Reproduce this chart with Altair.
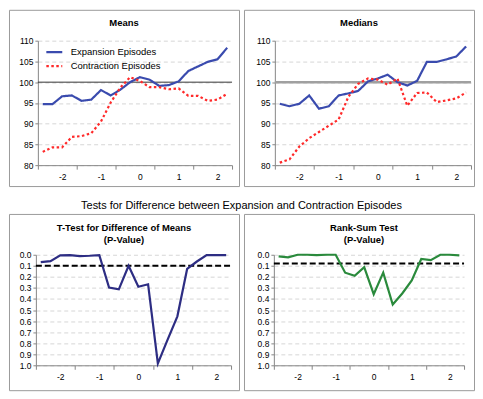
import altair as alt
import pandas as pd

# ---------------- data ----------------
quarters = [-2.5, -2.25, -2.0, -1.75, -1.5, -1.25, -1.0, -0.75, -0.5, -0.25,
            0.0, 0.25, 0.5, 0.75, 1.0, 1.25, 1.5, 1.75, 2.0, 2.25]

means_expansion = [94.7, 94.7, 96.6, 96.8, 95.5, 95.8, 98.1, 96.8, 98.2, 100.0,
                   101.2, 100.6, 99.1, 99.3, 100.2, 102.7, 103.8, 104.9, 105.5, 108.3]
means_contraction = [83.2, 84.3, 84.3, 86.8, 87.0, 87.7, 90.5, 95.1, 98.7, 101.2,
                     100.3, 98.8, 98.8, 98.3, 98.5, 96.7, 96.7, 95.5, 95.8, 97.2]

medians_expansion = [94.8, 94.2, 94.8, 96.8, 93.6, 94.2, 96.8, 97.3, 97.9, 100.2,
                     100.9, 101.8, 100.0, 99.2, 100.3, 104.9, 104.9, 105.5, 106.2, 108.6]
medians_contraction = [80.6, 81.4, 84.5, 86.5, 88.0, 89.5, 91.0, 96.5, 99.6, 100.9,
                       100.6, 99.4, 100.9, 94.3, 97.4, 97.5, 95.2, 95.6, 96.1, 97.5]

ttest_pvalue = [0.067, 0.058, 0.006, 0.003, 0.012, 0.009, 0.003, 0.296, 0.313, 0.099,
                0.290, 0.267, 0.983, 0.768, 0.557, 0.128, 0.061, 0.003, 0.003, 0.003]
ranksum_pvalue = [0.015, 0.023, 0.000, 0.000, 0.003, 0.000, 0.000, 0.162, 0.190, 0.113,
                  0.357, 0.162, 0.450, 0.350, 0.232, 0.038, 0.049, 0.000, 0.000, 0.006]

series_names = ["Expansion Episodes", "Contraction Episodes"]
baseline_level = 100
ttest_cutoff = 0.1
ranksum_cutoff = 0.08

x_domain = [-2.625, 2.375]
x_axis_values = [-2.625, -2, -1.625, -1, -0.625, 0, 0.375, 1, 1.375, 2, 2.375]
level_domain = [80, 110]
level_ticks = [80, 85, 90, 95, 100, 105, 110]
pvalue_domain = [0, 1]
pvalue_ticks = [0.0, 0.1, 0.2, 0.3, 0.4, 0.5, 0.6, 0.7, 0.8, 0.9, 1.0]

# ---------------- styling ----------------
FONT = "Liberation Sans"
W, H = 231, 177
AXIS = "#868686"
BLUE = "#3a4bae"
RED = "#ff2a2a"
NAVY = "#2d2d83"
GREEN = "#2a8a3c"


def x_enc(field, xr, y_bottom):
    return alt.X(
        field, type="quantitative",
        scale=alt.Scale(domain=x_domain, range=xr, nice=False, zero=False),
        axis=alt.Axis(
            values=x_axis_values, offset=-(H - y_bottom), title=None, grid=False,
            labelExpr="datum.value % 1 === 0 ? '' + datum.value : ''",
            labelFont=FONT, labelFontSize=8.5, labelColor="black", labelPadding=3,
            labelFlush=False, labelOverlap=False,
            domainColor=AXIS, tickColor=AXIS, tickSize=4,
            tickOpacity={"condition": {"test": "datum.value % 1 !== 0", "value": 1}, "value": 0},
        ),
    )


def y_enc(field, domain, yr, values, fmt, x_left):
    return alt.Y(
        field, type="quantitative",
        scale=alt.Scale(domain=domain, range=yr, nice=False, zero=False),
        axis=alt.Axis(
            values=values, format=fmt, offset=-x_left, title=None,
            labelFont=FONT, labelFontSize=8.5, labelColor="black", labelPadding=2,
            labelFlush=False, labelOverlap=False,
            domainColor=AXIS, tickColor=AXIS, tickSize=3,
            grid=True, gridColor="#d6d6d6", gridDash=[4, 3], gridWidth=1,
        ),
    )


def panel_title(lines, offset, dx=0):
    return alt.TitleParams(text=lines, font=FONT, fontSize=9.5, fontWeight="bold",
                           color="black", anchor="middle", offset=offset, lineHeight=12.5,
                           dx=dx)


def level_panel(title, exp, con, xr, show_legend, rule_color, rule_width):
    yr = [156, 31]
    df = pd.DataFrame({
        "quarter": quarters + quarters,
        "value": exp + con,
        "series": [series_names[0]] * len(quarters) + [series_names[1]] * len(quarters),
    })
    ref = pd.DataFrame({"x": [x_domain[0]], "x2": [x_domain[1]], "y": [baseline_level]})
    rule = alt.Chart(ref).mark_rule(color=rule_color, strokeWidth=rule_width).encode(
        x=x_enc("x", xr, yr[0]), x2="x2:Q",
        y=y_enc("y", level_domain, yr, level_ticks, "d", xr[0]),
    )
    if show_legend:
        leg = alt.Legend(orient="none", legendX=36, legendY=33, title=None,
                         symbolType="stroke", symbolSize=256, symbolStrokeWidth=2.2,
                         labelFont=FONT, labelFontSize=9.5, labelColor="black",
                         labelOffset=7, rowPadding=0, padding=0)
    else:
        leg = None
    lines = alt.Chart(df).mark_line(strokeWidth=2.2).encode(
        x=x_enc("quarter", xr, yr[0]),
        y=y_enc("value", level_domain, yr, level_ticks, "d", xr[0]),
        color=alt.Color("series:N", scale=alt.Scale(domain=series_names, range=[BLUE, RED]),
                        legend=leg),
        strokeDash=alt.StrokeDash("series:N",
                                  scale=alt.Scale(domain=series_names, range=[[1, 0], [2.5, 2.5]]),
                                  legend=leg),
    )
    return alt.layer(rule, lines).properties(width=W, height=H, title=panel_title(title, -18))


def pvalue_panel(title, values, cutoff, xr, color, dx):
    yr = [41, 152]
    df = pd.DataFrame({"quarter": quarters, "p": values})
    ref = pd.DataFrame({"x": [x_domain[0]], "x2": [x_domain[1]], "y": [cutoff]})
    rule = alt.Chart(ref).mark_rule(color="black", strokeWidth=2, strokeDash=[6, 3]).encode(
        x=x_enc("x", xr, yr[1]), x2="x2:Q",
        y=y_enc("y", pvalue_domain, yr, pvalue_ticks, ".1f", xr[0]),
    )
    line = alt.Chart(df).mark_line(strokeWidth=2.2, color=color).encode(
        x=x_enc("quarter", xr, yr[1]),
        y=y_enc("p", pvalue_domain, yr, pvalue_ticks, ".1f", xr[0]),
    )
    return alt.layer(rule, line).properties(width=W, height=H, title=panel_title(title, -31, dx))


means = level_panel("Means", means_expansion, means_contraction, [29, 224], True, "#333333", 1)
medians = level_panel("Medians", medians_expansion, medians_contraction, [31, 228], False, "#a0a0a0", 2.5)
ttest = pvalue_panel(["T-Test for Difference of Means", "(P-Value)"], ttest_pvalue, ttest_cutoff,
                     [27, 223], NAVY, 0)
ranksum = pvalue_panel(["Rank-Sum Test", "(P-Value)"], ranksum_pvalue, ranksum_cutoff,
                       [30, 221], GREEN, 5)

top = alt.hconcat(means, medians, spacing=3).resolve_scale(
    color="independent", strokeDash="independent").resolve_legend(
    color="independent", strokeDash="independent")
bottom = alt.hconcat(ttest, ranksum, spacing=3).properties(
    title=alt.TitleParams("Tests for Difference between Expansion and Contraction Episodes",
                          font=FONT, fontSize=11, fontWeight="normal", color="black",
                          anchor="middle", offset=2))

chart = alt.vconcat(top, bottom, spacing=13).resolve_scale(
    color="independent", strokeDash="independent").resolve_legend(
    color="independent", strokeDash="independent").properties(padding=0).configure(
    font=FONT).configure_view(stroke="#9a9a9a", strokeWidth=1, fill="white")

chart.save("out.html", embed_options={"renderer": "svg", "actions": False})
